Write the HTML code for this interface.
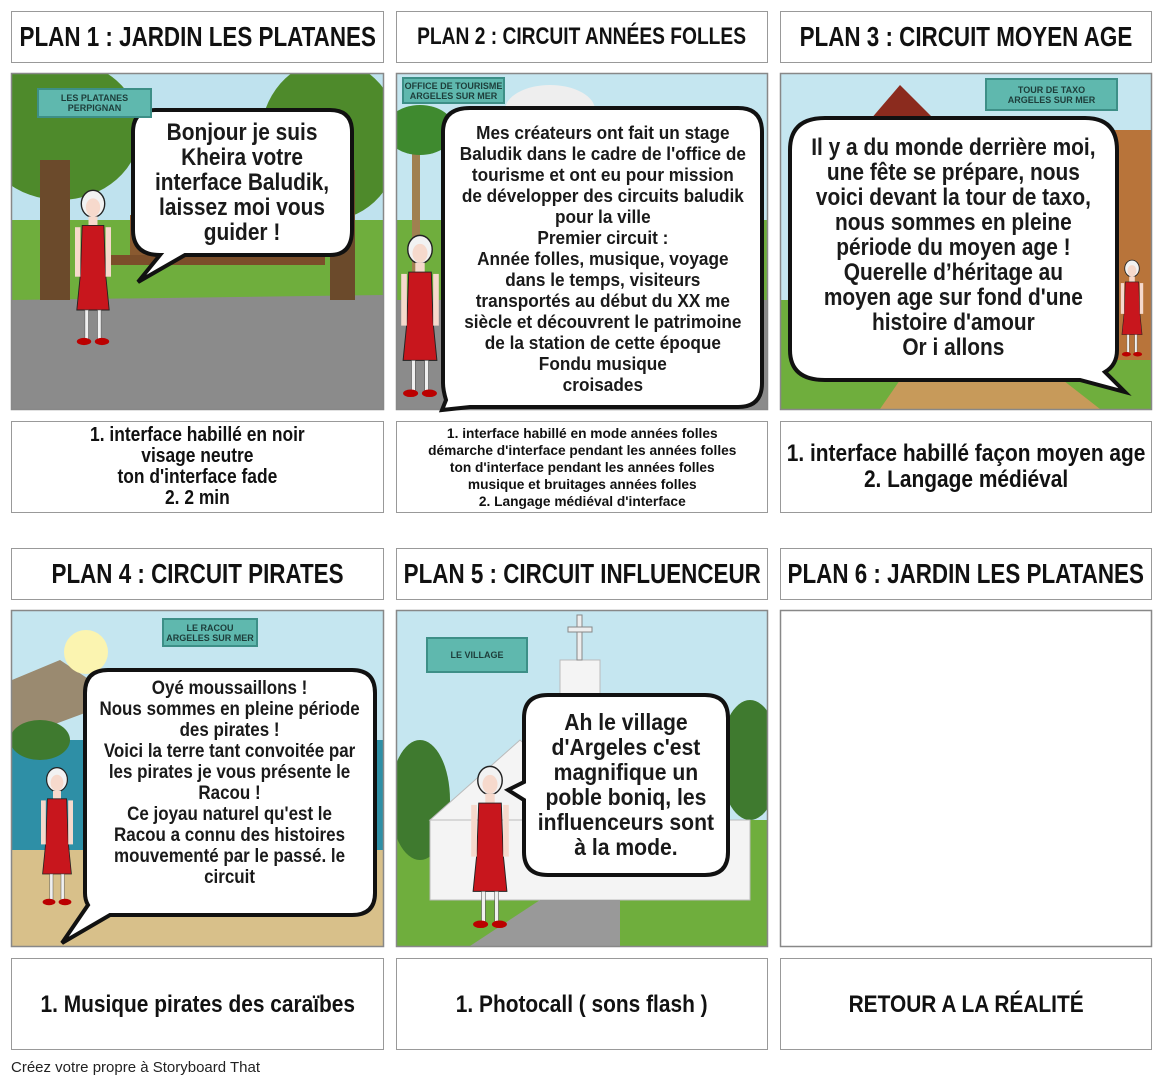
<!DOCTYPE html>
<html><head><meta charset="utf-8"><style>
*{margin:0;padding:0;box-sizing:border-box}
body{width:1165px;height:1087px;background:#fff;position:relative;overflow:hidden;font-family:"Liberation Sans",sans-serif;font-weight:bold;color:#111}
.box{position:absolute;border:1.5px solid #999;background:#fff;display:flex;align-items:center;justify-content:center;text-align:center}
.n{display:inline-block;transform:scaleX(.8);white-space:nowrap}
.m{display:inline-block;transform:scaleX(.87);white-space:nowrap}
.t{font-size:28px}
.c{font-size:21px;line-height:21px}
.b{position:absolute;text-align:center;color:#1a1a1a;display:flex;align-items:center;justify-content:center}
svg{position:absolute;left:0;top:0}
.lab{position:absolute;background:#5fb8ae;border:2px solid #3d8f87;font-size:9px;line-height:10px;text-align:center;display:flex;align-items:center;justify-content:center;color:#1d3d3a}
</style></head><body>
<svg width="1165" height="1087">
<defs>
<g id="girl">
<ellipse cx="0" cy="-8" rx="13" ry="15" fill="#f2f2f2" stroke="#222" stroke-width="1.5"/>
<ellipse cx="0" cy="-4" rx="8" ry="10" fill="#f6d9cc"/>
<rect x="-5" y="6" width="10" height="10" fill="#f6d9cc"/>
<path d="M-12 16 L12 16 L14 70 L18 110 L-18 110 L-14 70 Z" fill="#c8161d" stroke="#222" stroke-width="1"/>
<rect x="-20" y="18" width="6" height="55" fill="#f6d9cc"/><rect x="14" y="18" width="6" height="55" fill="#f6d9cc"/>
<rect x="-9" y="110" width="4" height="32" fill="#f0f0f0" stroke="#555" stroke-width=".6"/><rect x="5" y="110" width="4" height="32" fill="#f0f0f0" stroke="#555" stroke-width=".6"/>
<ellipse cx="-10" cy="145" rx="8" ry="4" fill="#b00"/><ellipse cx="10" cy="145" rx="8" ry="4" fill="#b00"/>
</g>
<clipPath id="p1"><rect x="12" y="74" width="371" height="335"/></clipPath>
<clipPath id="p2"><rect x="397" y="74" width="370" height="335"/></clipPath>
<clipPath id="p3"><rect x="781" y="74" width="370" height="335"/></clipPath>
<clipPath id="p4"><rect x="12" y="611" width="371" height="335"/></clipPath>
<clipPath id="p5"><rect x="397" y="611" width="370" height="335"/></clipPath>
</defs>
<g clip-path="url(#p1)">
<rect x="12" y="74" width="371" height="335" fill="#bfe2ee"/>
<rect x="12" y="220" width="371" height="100" fill="#6fae3d"/>
<path d="M12 300 L383 295 L383 409 L12 409Z" fill="#8b8b8b"/>
<ellipse cx="60" cy="130" rx="80" ry="70" fill="#4e8a2b"/>
<rect x="40" y="160" width="30" height="140" fill="#6b4a2b"/>
<ellipse cx="330" cy="140" rx="70" ry="80" fill="#4e8a2b"/>
<rect x="330" y="170" width="25" height="130" fill="#6b4a2b"/>
<rect x="110" y="255" width="215" height="10" fill="#7b4e2a"/>
<rect x="130" y="215" width="180" height="40" fill="#8a5a30"/>
</g>
<g clip-path="url(#p2)">
<rect x="397" y="74" width="370" height="335" fill="#c5e6f0"/>
<rect x="397" y="300" width="370" height="110" fill="#8b8b8b"/>
<rect x="397" y="220" width="370" height="80" fill="#6fae3d"/>
<ellipse cx="550" cy="110" rx="45" ry="25" fill="#eee"/>
<rect x="412" y="120" width="8" height="180" fill="#a08050"/>
<ellipse cx="420" cy="130" rx="35" ry="25" fill="#3f8a2f"/>
</g>
<g clip-path="url(#p3)">
<rect x="781" y="74" width="370" height="335" fill="#c5e6f0"/>
<rect x="781" y="300" width="370" height="110" fill="#6fae3d"/>
<rect x="1110" y="130" width="45" height="230" fill="#b8743a"/>
<path d="M870 120 L900 85 L935 120Z" fill="#8b2b1e"/>
<path d="M900 380 L1050 370 L1100 409 L880 409Z" fill="#c79a5a"/>
</g>
<g clip-path="url(#p4)">
<rect x="12" y="611" width="371" height="335" fill="#c5e6f0"/>
<path d="M12 680 L60 660 L120 700 L12 740Z" fill="#9a8a70"/>
<rect x="12" y="740" width="371" height="110" fill="#2e8fa6"/>
<rect x="12" y="850" width="371" height="100" fill="#d8c08a"/>
<circle cx="86" cy="652" r="22" fill="#fbf4b0"/>
<ellipse cx="40" cy="740" rx="30" ry="20" fill="#3f7a2f"/>
</g>
<g clip-path="url(#p5)">
<rect x="397" y="611" width="370" height="335" fill="#c5e6f0"/>
<rect x="397" y="820" width="370" height="130" fill="#6fae3d"/>
<ellipse cx="420" cy="800" rx="30" ry="60" fill="#3f7a2f"/>
<ellipse cx="750" cy="760" rx="30" ry="60" fill="#3f7a2f"/>
<path d="M430 820 L520 740 L610 820Z" fill="#f4f4f4" stroke="#bbb"/>
<rect x="430" y="820" width="320" height="80" fill="#f4f4f4" stroke="#bbb"/>
<rect x="560" y="660" width="40" height="60" fill="#f4f4f4" stroke="#bbb"/>
<rect x="577" y="615" width="5" height="45" fill="#eee" stroke="#888"/><rect x="568" y="627" width="24" height="5" fill="#eee" stroke="#888"/>
<path d="M470 946 L540 900 L620 900 L620 946Z" fill="#999"/>
</g>
<g fill="none" stroke="#888" stroke-width="1.5">
<rect x="11.5" y="73.5" width="372" height="336"/><rect x="396.5" y="73.5" width="371" height="336"/><rect x="780.5" y="73.5" width="371" height="336"/>
<rect x="11.5" y="610.5" width="372" height="336"/><rect x="396.5" y="610.5" width="371" height="336"/><rect x="780.5" y="610.5" width="371" height="336"/>
</g>
<use href="#girl" transform="translate(93 211) scale(.9)"/>
<use href="#girl" transform="translate(420 257) scale(.94)"/>
<use href="#girl" transform="translate(1132 273) scale(.56)"/>
<use href="#girl" transform="translate(57 786) scale(.8)"/>
<use href="#girl" transform="translate(490 788) scale(.94)"/>
<g fill="#fff" stroke="#111" stroke-width="4">
<path d="M155 110 H330 Q352 110 352 132 V230 Q352 255 330 255 H185 L138 282 L160 255 Q133 255 133 230 V132 Q133 110 155 110Z"/>
<path d="M470 108 H738 Q762 108 762 132 V383 Q762 407 738 407 H470 L442 410 L446 400 Q443 390 443 383 V132 Q443 108 470 108Z"/>
<path d="M825 118 H1085 Q1117 118 1117 150 V350 Q1117 365 1105 372 L1125 392 L1080 380 H825 Q790 380 790 350 V150 Q790 118 825 118Z"/>
<path d="M108 670 H352 Q375 670 375 693 V893 Q375 915 352 915 H110 L62 943 L88 905 Q85 900 85 893 V693 Q85 670 108 670Z"/>
<path d="M548 695 H705 Q728 695 728 718 V852 Q728 875 705 875 H548 Q524 875 524 852 V800 L508 790 L524 782 V718 Q524 695 548 695Z"/>
</g>
</svg>
<div class="lab" style="left:37px;top:88px;width:115px;height:30px">LES PLATANES<br>PERPIGNAN</div>
<div class="lab" style="left:402px;top:77px;width:103px;height:27px">OFFICE DE TOURISME<br>ARGELES SUR MER</div>
<div class="lab" style="left:985px;top:78px;width:133px;height:33px">TOUR DE TAXO<br>ARGELES SUR MER</div>
<div class="lab" style="left:162px;top:618px;width:96px;height:29px">LE RACOU<br>ARGELES SUR MER</div>
<div class="lab" style="left:426px;top:637px;width:102px;height:36px">LE VILLAGE</div>

<div class="box t" style="left:11px;top:11px;width:373px;height:52px"><span class="n">PLAN 1 : JARDIN LES PLATANES</span></div>
<div class="box t" style="left:396px;top:11px;width:372px;height:52px;font-size:24px"><span class="n">PLAN 2 : CIRCUIT ANNÉES FOLLES</span></div>
<div class="box t" style="left:780px;top:11px;width:372px;height:52px"><span class="n">PLAN 3 : CIRCUIT MOYEN AGE</span></div>
<div class="box t" style="left:11px;top:548px;width:373px;height:52px"><span class="n">PLAN 4 : CIRCUIT PIRATES</span></div>
<div class="box t" style="left:396px;top:548px;width:372px;height:52px"><span class="n">PLAN 5 : CIRCUIT INFLUENCEUR</span></div>
<div class="box t" style="left:780px;top:548px;width:372px;height:52px"><span class="n">PLAN 6 : JARDIN LES PLATANES</span></div>

<div class="box c" style="left:11px;top:421px;width:373px;height:92px;font-size:20px"><span class="m">1. interface habillé en noir<br>visage neutre<br>ton d'interface fade<br>2. 2 min</span></div>
<div class="box c" style="left:396px;top:421px;width:372px;height:92px;font-size:14px;line-height:17px"><span class="m" style="transform:scaleX(.98)">1. interface habillé en mode années folles<br>démarche d'interface pendant les années folles<br>ton d'interface pendant les années folles<br>musique et bruitages années folles<br>2. Langage médiéval d'interface</span></div>
<div class="box c" style="left:780px;top:421px;width:372px;height:92px;font-size:24px;line-height:26px"><span class="m">1. interface habillé façon moyen age<br>2. Langage médiéval</span></div>
<div class="box c" style="left:11px;top:958px;width:373px;height:92px;font-size:24px"><span class="m">1. Musique pirates des caraïbes</span></div>
<div class="box c" style="left:396px;top:958px;width:372px;height:92px;font-size:24px"><span class="m">1. Photocall ( sons flash )</span></div>
<div class="box c" style="left:780px;top:958px;width:372px;height:92px;font-size:24px"><span class="m">RETOUR A LA RÉALITÉ</span></div>

<div class="b" style="left:135px;top:112px;width:215px;height:140px;font-size:24px;line-height:25px"><span class="m">Bonjour je suis<br>Kheira votre<br>interface Baludik,<br>laissez moi vous<br>guider !</span></div>
<div class="b" style="left:445px;top:112px;width:315px;height:292px;font-size:18.5px;line-height:21px"><span class="m" style="transform:scaleX(.93)">Mes créateurs ont fait un stage<br>Baludik dans le cadre de l'office de<br>tourisme et ont eu pour mission<br>de développer des circuits baludik<br>pour la ville<br>Premier circuit :<br>Année folles, musique, voyage<br>dans le temps, visiteurs<br>transportés au début du XX me<br>siècle et découvrent le patrimoine<br>de la station de cette époque<br>Fondu musique<br>croisades</span></div>
<div class="b" style="left:792px;top:122px;width:323px;height:250px;font-size:24px;line-height:25px"><span class="m">Il y a du monde derrière moi,<br>une fête se prépare, nous<br>voici devant la tour de taxo,<br>nous sommes en pleine<br>période du moyen age !<br>Querelle d’héritage au<br>moyen age sur fond d'une<br>histoire d'amour<br>Or i allons</span></div>
<div class="b" style="left:87px;top:674px;width:286px;height:218px;font-size:19.5px;line-height:21px"><span class="m">Oyé moussaillons !<br>Nous sommes en pleine période<br>des pirates !<br>Voici la terre tant convoitée par<br>les pirates je vous présente le<br>Racou !<br>Ce joyau naturel qu'est le<br>Racou a connu des histoires<br>mouvementé par le passé. le<br>circuit</span></div>
<div class="b" style="left:526px;top:697px;width:200px;height:176px;font-size:23.5px;line-height:25px"><span class="m" style="transform:scaleX(.9)">Ah le village<br>d'Argeles c'est<br>magnifique un<br>poble boniq, les<br>influenceurs sont<br>à la mode.</span></div>
<div style="position:absolute;left:11px;top:1059px;font-weight:normal;font-size:15px;color:#222;white-space:nowrap">Créez votre propre à Storyboard That</div>
</body></html>
